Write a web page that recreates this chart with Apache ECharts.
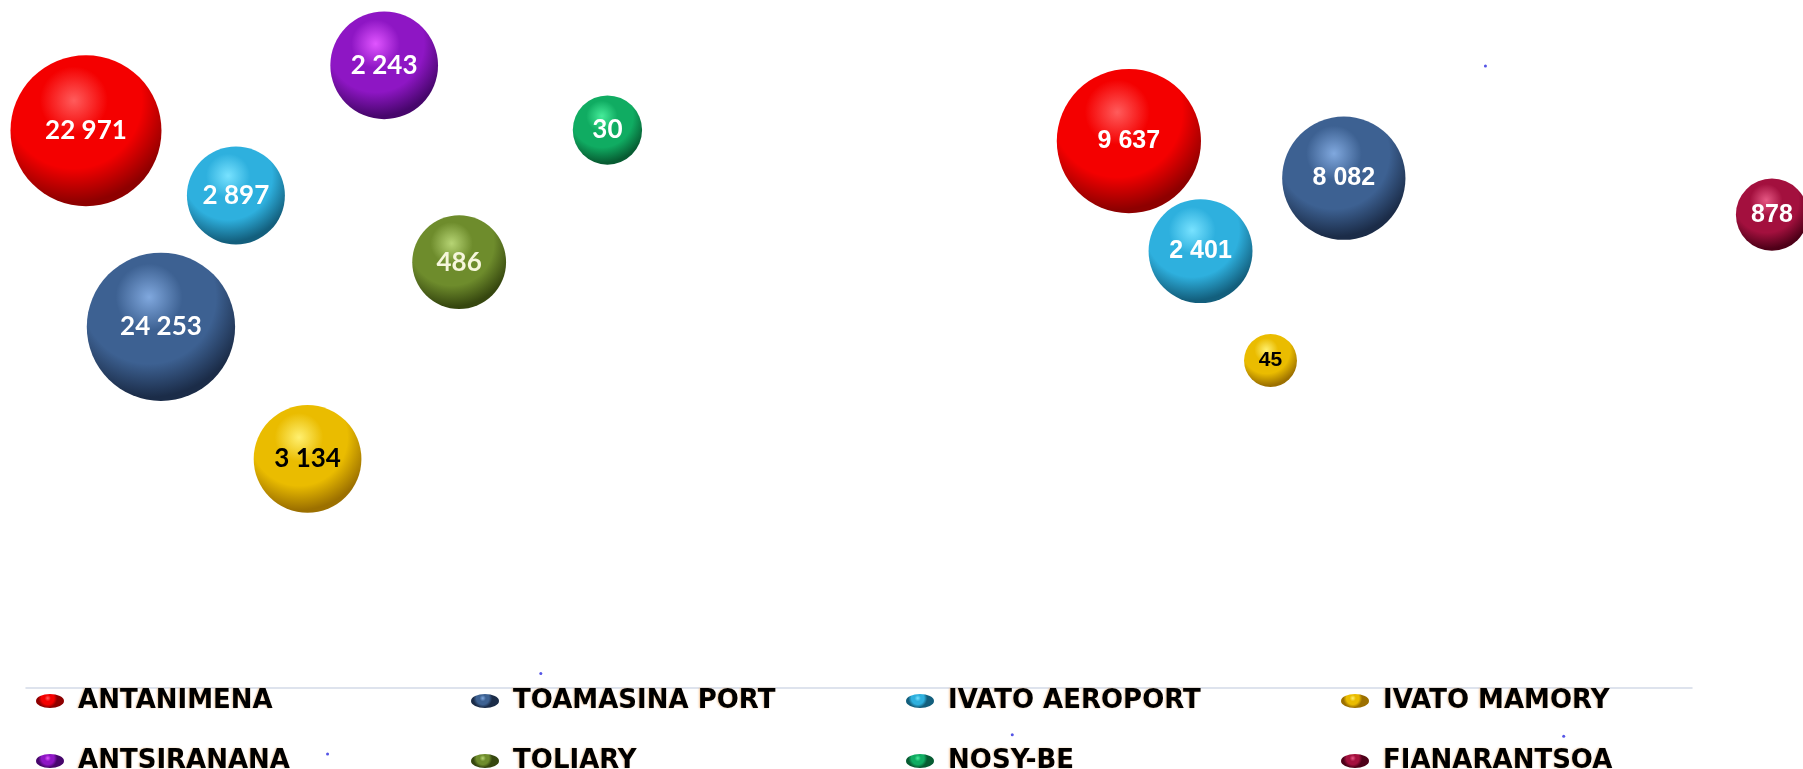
<!DOCTYPE html>
<html>
<head>
<meta charset="utf-8">
<title>Bubbles</title>
<script src="https://cdn.jsdelivr.net/npm/echarts@6.0.0/dist/echarts.min.js"></script>
<style>
  html, body { margin: 0; padding: 0; background: #fff; }
  #chart { width: 1803px; height: 769px; }
</style>
</head>
<body>
<div id="chart"></div>
<script>
// sites (legend order)
const names = ['ANTANIMENA', 'TOAMASINA PORT', 'IVATO AEROPORT', 'IVATO MAMORY',
               'ANTSIRANANA', 'TOLIARY', 'NOSY-BE', 'FIANARANTSOA'];

// left group
const leftX     = [3.6, 8.1, 12.6, 16.9, 21.5, 26.0, 34.9, null];
const leftY     = [81.0, 52.5, 71.6, 33.3, 90.5, 61.9, 81.1, null];
const leftSize  = [57, 55, 24, 29, 29, 22, 12, null];
const leftValue = [22971, 24253, 2897, 3134, 2243, 486, 30, null];

// right group
const rightX     = [66.2, 79.1, 70.5, 74.7, null, null, null, 104.8];
const rightY     = [79.5, 74.1, 63.5, 47.6, null, null, null, 68.8];
const rightSize  = [52, 38, 27, 7, null, null, null, 13];
const rightValue = [9637, 8082, 2401, 45, null, null, null, 878];

// stray little points
const dotX = [87.6, 30.9, 59.2, 92.3, 18.1];
const dotY = [90.4, 2.1, -6.8, -7.0, -9.6];

// highlight, base, shadow
const shades = [
    ['#ff5c5c', '#f40000', '#8e0000'],
    ['#80a8de', '#3d6192', '#1b2c48'],
    ['#78e2ff', '#2eb0de', '#135f7d'],
    ['#fff070', '#eabc00', '#9c7000'],
    ['#e055ff', '#8e16c4', '#47066c'],
    ['#b6d474', '#6e8c2c', '#36470f'],
    ['#46ec9a', '#10ac62', '#075c32'],
    ['#e65884', '#a3103e', '#4e0018']
];
const labelColors = ['#fff', '#fff', '#fff', '#000', '#fff', '#f6f6dc', '#fff', '#fff'];

function sphere(c) {
    return new echarts.graphic.RadialGradient(0.42, 0.3, 0.75, [
        { offset: 0, color: c[0] },
        { offset: 0.3, color: c[1] },
        { offset: 0.6, color: c[1] },
        { offset: 0.9, color: c[2] },
        { offset: 1, color: c[2] }
    ]);
}

function fmt(v) {
    return String(v).replace(/\B(?=(\d{3})+(?!\d))/g, ' ');
}

const chart = echarts.init(document.getElementById('chart'));

const series = names.map((name, i) => {
    const data = [];
    if (leftX[i] != null) {
        data.push({
            value: [leftX[i], leftY[i], leftSize[i], leftValue[i]],
            label: { fontFamily: 'Lato', fontSize: 26 }
        });
    }
    if (rightX[i] != null) {
        data.push({
            value: [rightX[i], rightY[i], rightSize[i], rightValue[i]],
            label: {
                fontFamily: '"Liberation Sans Narrow", "Liberation Sans", Arial',
                fontSize: rightSize[i] < 10 ? 21 : 25
            }
        });
    }
    return {
        name: name,
        type: 'scatter',
        clip: false,
        data: data,
        symbolSize: v => Math.sqrt(v[2]) * 20,
        itemStyle: { color: sphere(shades[i]), opacity: 1 },
        label: {
            show: true,
            position: 'inside',
            color: labelColors[i],
            fontWeight: 'bold',
            formatter: p => fmt(p.value[3])
        },
        emphasis: { disabled: true }
    };
});

series.push({
    name: 'dots',
    type: 'scatter',
    clip: false,
    silent: true,
    symbolSize: 3,
    itemStyle: { color: '#2a2ae0' },
    data: dotX.map((x, i) => [x, dotY[i]])
});

chart.setOption({
    backgroundColor: '#fff',
    animation: false,
    grid: { left: 26, right: 111, top: 0, bottom: 81, containLabel: false },
    xAxis: {
        type: 'value',
        min: 0,
        max: 100,
        axisLine: { show: true, lineStyle: { color: '#d3dae7', width: 1.5 } },
        axisTick: { show: false },
        axisLabel: { show: false },
        splitLine: { show: false }
    },
    yAxis: {
        type: 'value',
        min: 0,
        max: 100,
        axisLine: { show: false },
        axisTick: { show: false },
        axisLabel: { show: false },
        splitLine: { show: false }
    },
    legend: {
        data: names,
        left: 36,
        top: 687,
        width: 1720,
        padding: 0,
        itemGap: 32,
        itemWidth: 28,
        itemHeight: 14,
        icon: 'path://M0,5a10,5 0 1,0 20,0a10,5 0 1,0 -20,0',
        selectedMode: false,
        formatter: ' {name}',
        textStyle: {
            fontFamily: '"DejaVu Sans"',
            fontWeight: 'bold',
            fontSize: 26,
            color: '#000',
            width: 370,
            lineHeight: 28,
            textShadowColor: 'rgba(235, 150, 60, 0.55)',
            textShadowBlur: 2,
            textShadowOffsetX: -1
        }
    },
    series: series
});
</script>
</body>
</html>
